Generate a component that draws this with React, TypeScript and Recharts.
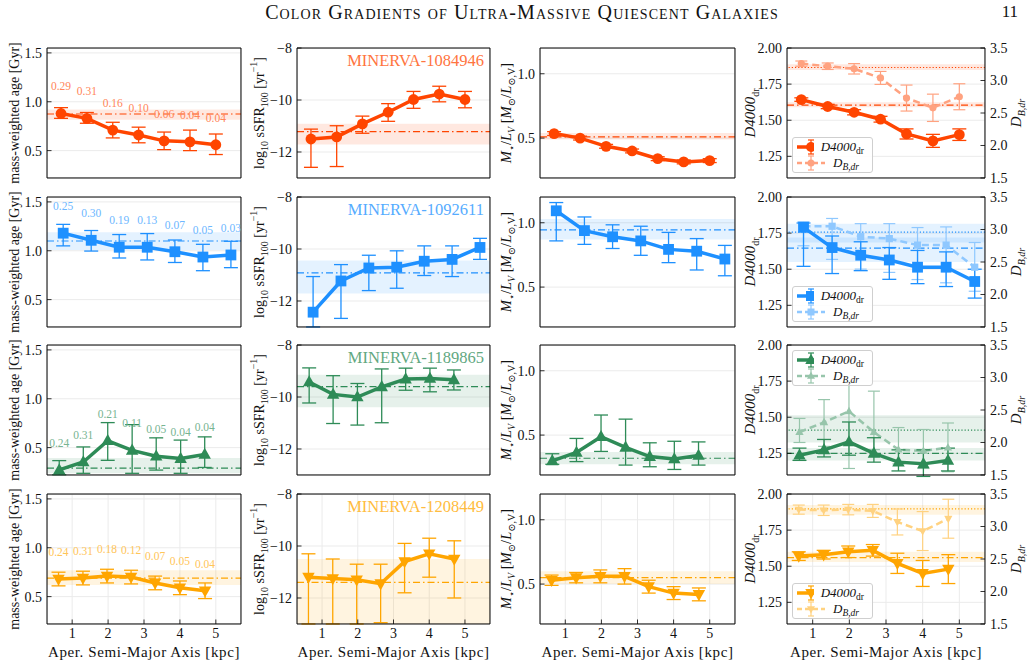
import React from "react";
import {
  ComposedChart,
  Line,
  XAxis,
  YAxis,
  CartesianGrid,
  ErrorBar,
  ReferenceArea,
  ReferenceLine,
  LabelList,
  Label,
  Legend,
} from "recharts";

const FONT = "'Liberation Serif', 'DejaVu Serif', serif";

// ---------- data ----------
// MINERVA-1084946
const radius1084946 = [0.69, 1.41, 2.13, 2.85, 3.56, 4.28, 5.0];
const age1084946 = [0.88, 0.83, 0.71, 0.66, 0.6, 0.59, 0.56];
const ageErr1084946 = [[0.05, 0.06], [0.05, 0.06], [0.08, 0.08], [0.08, 0.08], [0.09, 0.09], [0.09, 0.12], [0.1, 0.11]];
const ageRef1084946 = [0.875, 0.815, 0.92];
const ageNote1084946 = ["0.29", "0.31", "0.16", "0.10", "0.06", "0.04", "0.04"];
const ssfr1084946 = [-11.5, -11.42, -10.92, -10.47, -9.98, -9.77, -9.98];
const ssfrErr1084946 = [[1.09, 0.38], [1.14, 0.43], [0.36, 0.3], [0.35, 0.33], [0.34, 0.31], [0.3, 0.3], [0.32, 0.31]];
const ssfrRef1084946 = [-11.22, -11.71, -10.91];
const ml1084946 = [0.535, 0.5, 0.436, 0.4, 0.34, 0.315, 0.325];
const mlErr1084946 = [[0.015, 0.015], [0.015, 0.015], [0.015, 0.015], [0.015, 0.015], [0.015, 0.015], [0.015, 0.015], [0.015, 0.015]];
const mlRef1084946 = [0.51, 0.49, 0.54];
const d4000_1084946 = [1.643, 1.595, 1.555, 1.507, 1.405, 1.357, 1.4];
const d4000Err1084946 = [[0.012, 0.012], [0.015, 0.015], [0.018, 0.018], [0.02, 0.02], [0.035, 0.035], [0.045, 0.045], [0.04, 0.04]];
const d4000Ref1084946 = [1.605, 1.59, 1.625];
const db1084946 = [3.26, 3.22, 3.18, 3.04, 2.73, 2.58, 2.75];
const dbErr1084946 = [[0.04, 0.04], [0.05, 0.05], [0.08, 0.08], [0.1, 0.1], [0.2, 0.2], [0.21, 0.21], [0.2, 0.2]];
const dbRef1084946 = [3.2, 3.16, 3.25];

// MINERVA-1092611
const radius1092611 = [0.75, 1.53, 2.31, 3.09, 3.86, 4.64, 5.42];
const age1092611 = [1.18, 1.107, 1.036, 1.036, 0.99, 0.936, 0.957];
const ageErr1092611 = [[0.13, 0.09], [0.11, 0.1], [0.11, 0.13], [0.13, 0.14], [0.11, 0.12], [0.14, 0.13], [0.13, 0.14]];
const ageRef1092611 = [1.1, 1.007, 1.19];
const ageNote1092611 = ["0.25", "0.30", "0.19", "0.13", "0.07", "0.05", "0.03"];
const ssfr1092611 = [-12.43, -11.23, -10.73, -10.7, -10.47, -10.4, -9.94];
const ssfrErr1092611 = [[0.57, 1.37], [1.44, 0.63], [0.87, 0.49], [0.81, 0.63], [0.55, 0.59], [0.66, 0.52], [0.46, 0.35]];
const ssfrRef1092611 = [-10.92, -11.71, -10.44];
const ml1092611 = [1.093, 0.939, 0.891, 0.859, 0.793, 0.779, 0.718];
const mlErr1092611 = [[0.234, 0.064], [0.107, 0.106], [0.091, 0.093], [0.112, 0.114], [0.103, 0.132], [0.146, 0.098], [0.13, 0.106]];
const mlRef1092611 = [0.944, 0.87, 1.03];
const d4000_1092611 = [1.79, 1.65, 1.597, 1.564, 1.514, 1.514, 1.415];
const d4000Err1092611 = [[0.27, 0.03], [0.18, 0.08], [0.107, 0.093], [0.134, 0.086], [0.114, 0.116], [0.134, 0.106], [0.115, 0.085]];
const d4000Ref1092611 = [1.646, 1.55, 1.72];
const db1092611 = [3.05, 3.05, 2.89, 2.86, 2.76, 2.76, 2.42];
const dbErr1092611 = [[0.3, 0.07], [0.51, 0.12], [0.5, 0.2], [0.52, 0.23], [0.53, 0.27], [0.58, 0.28], [0.37, 0.38]];
const dbRef1092611 = [2.96, 2.8, 3.09];

// MINERVA-1189865
const radius1189865 = [0.64, 1.31, 1.99, 2.67, 3.34, 4.02, 4.69];
const age1189865 = [0.272, 0.353, 0.57, 0.472, 0.412, 0.388, 0.43];
const ageErr1189865 = [[0.05, 0.095], [0.116, 0.154], [0.2, 0.186], [0.235, 0.263], [0.142, 0.188], [0.151, 0.189], [0.133, 0.18]];
const ageRef1189865 = [0.29, 0.237, 0.395];
const ageNote1189865 = ["0.24", "0.31", "0.21", "0.11", "0.05", "0.04", "0.04"];
const ssfr1189865 = [-9.42, -9.9, -10.0, -9.61, -9.31, -9.29, -9.34];
const ssfrErr1189865 = [[0.81, 0.54], [1.12, 0.72], [1.08, 0.52], [1.38, 0.69], [0.43, 0.42], [0.51, 0.4], [0.39, 0.38]];
const ssfrRef1189865 = [-9.6, -10.39, -9.14];
const ml1189865 = [0.3, 0.365, 0.487, 0.405, 0.333, 0.315, 0.341];
const mlErr1189865 = [[0.027, 0.055], [0.071, 0.109], [0.114, 0.169], [0.138, 0.219], [0.079, 0.107], [0.082, 0.137], [0.074, 0.106]];
const mlRef1189865 = [0.32, 0.273, 0.368];
const d4000_1189865 = [1.237, 1.274, 1.329, 1.25, 1.189, 1.177, 1.201];
const d4000Err1189865 = [[0.036, 0.049], [0.049, 0.072], [0.092, 0.138], [0.061, 0.108], [0.061, 0.085], [0.087, 0.097], [0.073, 0.085]];
const d4000Ref1189865 = [1.25, 1.2, 1.286];
const db1189865 = [2.16, 2.31, 2.48, 2.16, 1.89, 1.87, 1.92];
const dbErr1189865 = [[0.16, 0.21], [0.37, 0.35], [0.88, 0.46], [0.27, 0.63], [0.22, 0.34], [0.27, 0.33], [0.37, 0.38]];
const dbRef1189865 = [2.19, 2.0, 2.42];

// MINERVA-1208449
const radius1208449 = [0.62, 1.3, 1.97, 2.64, 3.31, 4.0, 4.7];
const age1208449 = [0.68, 0.69, 0.71, 0.7, 0.64, 0.59, 0.56];
const ageErr1208449 = [[0.07, 0.07], [0.07, 0.07], [0.07, 0.07], [0.07, 0.07], [0.07, 0.07], [0.07, 0.07], [0.08, 0.08]];
const ageRef1208449 = [0.69, 0.62, 0.77];
const ageNote1208449 = ["0.24", "0.31", "0.18", "0.12", "0.07", "0.05", "0.04"];
const ssfr1208449 = [-11.2, -11.25, -11.3, -11.45, -10.6, -10.3, -10.5];
const ssfrErr1208449 = [[1.8, 0.9], [1.75, 0.75], [1.7, 0.6], [1.5, 0.75], [1.2, 0.7], [0.9, 0.6], [1.5, 0.7]];
const ssfrRef1208449 = [-11.4, -13.3, -10.5];
const ml1208449 = [0.53, 0.55, 0.56, 0.56, 0.48, 0.43, 0.42];
const mlErr1208449 = [[0.04, 0.04], [0.04, 0.04], [0.05, 0.05], [0.06, 0.06], [0.05, 0.05], [0.05, 0.05], [0.05, 0.05]];
const mlRef1208449 = [0.55, 0.5, 0.6];
const d4000_1208449 = [1.57, 1.58, 1.6, 1.61, 1.52, 1.45, 1.48];
const d4000Err1208449 = [[0.03, 0.03], [0.03, 0.03], [0.04, 0.04], [0.04, 0.04], [0.07, 0.07], [0.09, 0.09], [0.1, 0.1]];
const d4000Ref1208449 = [1.56, 1.53, 1.6];
const db1208449 = [3.26, 3.25, 3.26, 3.24, 3.07, 2.93, 3.12];
const dbErr1208449 = [[0.07, 0.07], [0.08, 0.08], [0.08, 0.08], [0.1, 0.1], [0.2, 0.2], [0.3, 0.3], [0.3, 0.3]];
const dbRef1208449 = [3.27, 3.18, 3.33];

const galaxyNames = ["MINERVA-1084946", "MINERVA-1092611", "MINERVA-1189865", "MINERVA-1208449"];
const galaxyColors = ["#ff4500", "#1e90ff", "#2e8b57", "#ffa500"];
const galaxyMarkers = ["circle", "square", "triangle", "triangleDown"];
const legendCorner = ["bottom", "bottom", "top", "bottom"];

// ---------- axes ----------
const X_DOMAIN: [number, number] = [0.3, 5.7];
const xMajor = [1, 2, 3, 4, 5];
const AGE_DOMAIN: [number, number] = [0.22, 1.55];
const ageMajor = [0.5, 1.0, 1.5];
const SSFR_DOMAIN: [number, number] = [-13, -8];
const ssfrMajor = [-12, -10, -8];
const ML_DOMAIN: [number, number] = [0.19, 1.2];
const mlMajor = [0.5, 1.0];
const D4000_DOMAIN: [number, number] = [1.1, 2.0];
const d4000Major = [1.25, 1.5, 1.75, 2.0];
const DB_DOMAIN: [number, number] = [1.5, 3.5];
const dbMajor = [1.5, 2.0, 2.5, 3.0, 3.5];

const steps = (a: number, b: number, s: number) => {
  const out: number[] = [];
  for (let v = a; v <= b + 1e-9; v += s) out.push(Math.round(v * 1000) / 1000);
  return out;
};
const xMinor = steps(0.4, 5.6, 0.2);
const ageMinor = steps(0.3, 1.5, 0.1);
const ssfrMinor = steps(-13, -8, 0.5);
const mlMinor = steps(0.2, 1.2, 0.1);
const d4000Minor = steps(1.1, 2.0, 0.05);
const dbMinor = steps(1.5, 3.5, 0.1);

// ---------- layout ----------
const colLeft = [47, 297, 540, 787];
const colWidth = [194, 193, 195, 198];
const rowTop = [48, 197, 345, 494];
const PH = 130;
const ML = 50;
const MT = 16;
const THIN = 0.01; // axes reserve (almost) no room, margins place the frame

const tint = (hex: string, a: number) => {
  const n = parseInt(hex.slice(1), 16);
  const f = (c: number) => Math.round(255 - (255 - c) * a);
  return `rgb(${f((n >> 16) & 255)},${f((n >> 8) & 255)},${f(n & 255)})`;
};

const axisLine = { stroke: "#000", strokeWidth: 1 };
const tickLine = { stroke: "#000", strokeWidth: 0.8 };
const tickFont = { fontSize: 14, fontFamily: FONT, fill: "#111" };
const minus = (v: number) => (v < 0 ? "\u2212" + Math.abs(v) : String(v));

function Marker({ shape, cx, cy, r, fill }: any) {
  if (shape === "square") return <rect x={cx - r} y={cy - r} width={2 * r} height={2 * r} fill={fill} />;
  if (shape === "triangle")
    return <polygon points={`${cx},${cy - r * 1.25} ${cx + r * 1.15},${cy + r * 0.8} ${cx - r * 1.15},${cy + r * 0.8}`} fill={fill} />;
  if (shape === "triangleDown")
    return <polygon points={`${cx},${cy + r * 1.25} ${cx + r * 1.15},${cy - r * 0.8} ${cx - r * 1.15},${cy - r * 0.8}`} fill={fill} />;
  return <circle cx={cx} cy={cy} r={r} fill={fill} />;
}

const dotFn = (shape: string, r: number, fill: string) => (p: any) =>
  p.cx == null ? <g key={`e${p.index}`} /> : <Marker key={`m${p.index}`} shape={shape} cx={p.cx} cy={p.cy} r={r} fill={fill} />;

const sub = (t: React.ReactNode, italic = false) => (
  <tspan baselineShift="sub" fontSize={10} fontStyle={italic ? "italic" : "normal"}>
    {t}
  </tspan>
);

const ageTitle = <tspan>mass-weighted age [Gyr]</tspan>;
const ssfrTitle = (
  <>
    <tspan>log</tspan>
    {sub("10")}
    <tspan> sSFR</tspan>
    {sub("100")}
    <tspan> [yr</tspan>
    <tspan baselineShift="super" fontSize={10}>{"\u22121"}</tspan>
    <tspan>]</tspan>
  </>
);
const mlTitle = (
  <>
    <tspan fontStyle="italic">M</tspan>
    {sub("\u22c6")}
    <tspan>/</tspan>
    <tspan fontStyle="italic">L</tspan>
    {sub("V", true)}
    <tspan> [</tspan>
    <tspan fontStyle="italic">M</tspan>
    {sub("\u2299")}
    <tspan>/</tspan>
    <tspan fontStyle="italic">L</tspan>
    {sub("\u2299,V")}
    <tspan>]</tspan>
  </>
);
const d4000Title = (
  <>
    <tspan fontStyle="italic">D4000</tspan>
    {sub("dr")}
  </>
);
const dbTitle = (
  <>
    <tspan fontStyle="italic">D</tspan>
    {sub("B,dr", true)}
  </>
);

const yTitle = (node: React.ReactNode, dx: number, size: number) => (props: any) => {
  const vb = props.viewBox || {};
  const x = (vb.x ?? 0) + dx;
  const y = (vb.y ?? 0) + (vb.height ?? 0) / 2;
  return (
    <text x={x} y={y} transform={`rotate(-90, ${x}, ${y})`} textAnchor="middle" dominantBaseline="central"
      fontFamily={FONT} fontSize={size} fill="#111">
      {node}
    </text>
  );
};

const xTitle = (props: any) => {
  const vb = props.viewBox || {};
  return (
    <text x={(vb.x ?? 0) + (vb.width ?? 0) / 2} y={(vb.y ?? 0) + 28} textAnchor="middle" dominantBaseline="central"
      fontFamily={FONT} fontSize={15} letterSpacing={0.6} fill="#111">
      Aper. Semi-Major Axis [kpc]
    </text>
  );
};

function xAxes(showLabels: boolean) {
  return [
    <XAxis key="xm" xAxisId="xm" type="number" domain={X_DOMAIN} ticks={xMinor} interval={0} height={THIN}
      axisLine={false} tick={false} tickLine={tickLine} tickSize={-2.5} allowDataOverflow />,
    <XAxis key="xtm" xAxisId="xtm" orientation="top" type="number" domain={X_DOMAIN} ticks={xMinor} interval={0}
      height={THIN} axisLine={false} tick={false} tickLine={tickLine} tickSize={-2.5} allowDataOverflow />,
    <XAxis key="xt" xAxisId="xt" orientation="top" type="number" domain={X_DOMAIN} ticks={xMajor} interval={0}
      height={THIN} axisLine={axisLine} tick={false} tickLine={tickLine} tickSize={-4.5} allowDataOverflow />,
    <XAxis key="x" xAxisId={0} type="number" dataKey="x" domain={X_DOMAIN} ticks={xMajor} interval={0} height={THIN}
      axisLine={axisLine} tickLine={tickLine} tickSize={-4.5} tickMargin={9} tick={showLabels ? tickFont : false}
      allowDataOverflow>
      {showLabels && <Label content={xTitle} />}
    </XAxis>,
  ];
}

function leftAxes(domain: [number, number], major: number[], minor: number[], fmt: (v: number) => string,
  title: React.ReactNode, dx: number, size: number) {
  return [
    <YAxis key="ym" yAxisId="ym" type="number" domain={domain} ticks={minor} interval={0} width={THIN}
      axisLine={false} tick={false} tickLine={tickLine} tickSize={-2.5} allowDataOverflow />,
    <YAxis key="y" yAxisId={0} type="number" domain={domain} ticks={major} interval={0} width={THIN}
      axisLine={axisLine} tickLine={tickLine} tickSize={-4.5} tickMargin={9.5} tick={tickFont} tickFormatter={fmt}
      allowDataOverflow>
      <Label content={yTitle(title, dx, size)} />
    </YAxis>,
  ];
}

function rightAxes(domain: [number, number], major: number[], minor: number[], labelled: boolean,
  title?: React.ReactNode) {
  return [
    <YAxis key="yrm" yAxisId="yrm" orientation="right" type="number" domain={domain} ticks={minor} interval={0}
      width={THIN} axisLine={false} tick={false} tickLine={tickLine} tickSize={-2.5} allowDataOverflow />,
    <YAxis key="yr" yAxisId="yr" orientation="right" type="number" domain={domain} ticks={major} interval={0}
      width={THIN} axisLine={axisLine} tickLine={tickLine} tickSize={-4.5} tickMargin={9.5}
      tick={labelled ? tickFont : false} tickFormatter={(v: number) => v.toFixed(1)} allowDataOverflow>
      {title && <Label content={yTitle(title, 31, 15)} />}
    </YAxis>,
  ];
}

const noteLabel = (fill: string) => (p: any) => {
  const x = p.x ?? p.viewBox?.x;
  const y = p.y ?? p.viewBox?.y;
  if (x == null || y == null) return null;
  return (
    <text key={`n${p.index}`} x={x} y={y - 27} textAnchor="middle" dominantBaseline="central" fontFamily={FONT}
      fontSize={11.5} fill={fill}>
      {p.value}
    </text>
  );
};

type Row = { x: number; v: number; e: number[]; note?: string };

type PanelProps = {
  col: number;
  row: number;
  data: Row[];
  domain: [number, number];
  major: number[];
  minor: number[];
  fmt: (v: number) => string;
  title: React.ReactNode;
  dx: number;
  size: number;
  refs: number[];
  withNotes?: boolean;
  name?: string;
};

function Panel(p: PanelProps) {
  const color = galaxyColors[p.row];
  const shape = galaxyMarkers[p.row];
  const bottom = p.row === 3;
  const mb = bottom ? 40 : 12;
  const mr = 8;
  const w = colWidth[p.col];
  return (
    <div style={{ position: "absolute", left: colLeft[p.col] - ML, top: rowTop[p.row] - MT }}>
      <ComposedChart width={w + ML + mr} height={PH + MT + mb} data={p.data}
        margin={{ top: MT, right: mr, bottom: mb, left: ML }}>
        <CartesianGrid stroke="#ebebeb" strokeWidth={1} />
        {xAxes(bottom)}
        {leftAxes(p.domain, p.major, p.minor, p.fmt, p.title, p.dx, p.size)}
        {rightAxes(p.domain, p.major, p.minor, false)}
        <ReferenceArea y1={p.refs[1]} y2={p.refs[2]} fill={color} fillOpacity={0.12} stroke="none" ifOverflow="hidden" />
        <ReferenceLine y={p.refs[0]} stroke={color} strokeWidth={1.2} strokeDasharray="7 3 1.5 3" ifOverflow="hidden" />
        <Line type="linear" dataKey="v" stroke={color} strokeWidth={3.5} isAnimationActive={false} activeDot={false}
          dot={dotFn(shape, 5.4, color)}>
          <ErrorBar dataKey="e" direction="y" width={7} stroke={color} strokeWidth={1.3} isAnimationActive={false} />
          {p.withNotes && <LabelList dataKey="note" content={noteLabel(tint(color, 0.65))} />}
        </Line>
      </ComposedChart>
      {p.name && (
        <div style={{ position: "absolute", right: mr + 6, top: MT + 3, fontFamily: FONT, fontSize: 16.5,
          color: tint(color, 0.75), whiteSpace: "nowrap" }}>
          {p.name}
        </div>
      )}
    </div>
  );
}

type IndexRow = { x: number; d: number; de: number[]; b: number; be: number[] };

function LegendBox({ color, shape }: { color: string; shape: string }) {
  const light = tint(color, 0.5);
  const entry = (main: boolean) => {
    const c = main ? color : light;
    return (
      <div style={{ display: "flex", alignItems: "center", height: 16 }}>
        <svg width={30} height={16}>
          <line x1={1} x2={29} y1={8} y2={8} stroke={c} strokeWidth={main ? 3.5 : 2.5}
            strokeDasharray={main ? undefined : "5 3"} />
          <line x1={15} x2={15} y1={1} y2={15} stroke={c} strokeWidth={1.2} />
          <line x1={12} x2={18} y1={1} y2={1} stroke={c} strokeWidth={1.2} />
          <line x1={12} x2={18} y1={15} y2={15} stroke={c} strokeWidth={1.2} />
          <Marker shape={shape} cx={15} cy={8} r={main ? 5 : 3.5} fill={c} />
        </svg>
        <span style={{ fontStyle: "italic", fontSize: 13, marginLeft: 7, fontFamily: FONT, color: "#111" }}>
          {main ? "D4000" : "D"}
          <span style={{ fontSize: 9.5, position: "relative", top: 3, fontStyle: main ? "normal" : "italic" }}>
            {main ? "dr" : "B,dr"}
          </span>
        </span>
      </div>
    );
  };
  return (
    <div style={{ border: "1px solid #cfcfcf", borderRadius: 3, background: "rgba(255,255,255,0.85)",
      padding: "1px 8px 1px 3px", width: 68 }}>
      {entry(true)}
      {entry(false)}
    </div>
  );
}

function IndexPanel({ row, data, dRef, bRef }: { row: number; data: IndexRow[]; dRef: number[]; bRef: number[] }) {
  const color = galaxyColors[row];
  const light = tint(color, 0.5);
  const shape = galaxyMarkers[row];
  const bottom = row === 3;
  const mb = bottom ? 40 : 12;
  const mr = 45;
  const w = colWidth[3];
  const legendTop = legendCorner[row] === "top" ? MT + 5 : MT + PH - 41;
  return (
    <div style={{ position: "absolute", left: colLeft[3] - ML, top: rowTop[row] - MT }}>
      <ComposedChart width={w + ML + mr} height={PH + MT + mb} data={data}
        margin={{ top: MT, right: mr, bottom: mb, left: ML }}>
        <CartesianGrid stroke="#ebebeb" strokeWidth={1} />
        {xAxes(bottom)}
        {leftAxes(D4000_DOMAIN, d4000Major, d4000Minor, (v: number) => v.toFixed(2), d4000Title, -37, 15)}
        {rightAxes(DB_DOMAIN, dbMajor, dbMinor, true, dbTitle)}
        <ReferenceArea y1={dRef[1]} y2={dRef[2]} fill={color} fillOpacity={0.12} stroke="none" ifOverflow="hidden" />
        <ReferenceArea yAxisId="yr" y1={bRef[1]} y2={bRef[2]} fill={color} fillOpacity={0.12} stroke="none"
          ifOverflow="hidden" />
        <ReferenceLine y={dRef[0]} stroke={color} strokeWidth={1.2} strokeDasharray="7 3 1.5 3" ifOverflow="hidden" />
        <ReferenceLine yAxisId="yr" y={bRef[0]} stroke={color} strokeWidth={1.2} strokeDasharray="1.2 2"
          ifOverflow="hidden" />
        <Line yAxisId="yr" type="linear" dataKey="b" stroke={light} strokeWidth={2.5} strokeDasharray="7 4"
          isAnimationActive={false} activeDot={false} dot={dotFn(shape, 3.6, light)}>
          <ErrorBar dataKey="be" direction="y" width={6} stroke={light} strokeWidth={1.2} isAnimationActive={false} />
        </Line>
        <Line type="linear" dataKey="d" stroke={color} strokeWidth={3.5} isAnimationActive={false} activeDot={false}
          dot={dotFn(shape, 5.4, color)}>
          <ErrorBar dataKey="de" direction="y" width={7} stroke={color} strokeWidth={1.3} isAnimationActive={false} />
        </Line>
        <Legend layout="horizontal" verticalAlign="middle" align="center"
          wrapperStyle={{ left: ML + 5, top: legendTop, width: "auto", height: "auto" }}
          content={() => <LegendBox color={color} shape={shape} />} />
      </ComposedChart>
    </div>
  );
}

const mk = (xs: number[], vs: number[], es: number[][], notes?: string[]): Row[] =>
  xs.map((x, i) => ({ x, v: vs[i], e: es[i], note: notes ? notes[i] : undefined }));
const mkIdx = (xs: number[], ds: number[], des: number[][], bs: number[], bes: number[][]): IndexRow[] =>
  xs.map((x, i) => ({ x, d: ds[i], de: des[i], b: bs[i], be: bes[i] }));

const galaxies = [
  {
    age: mk(radius1084946, age1084946, ageErr1084946, ageNote1084946), ageRef: ageRef1084946,
    ssfr: mk(radius1084946, ssfr1084946, ssfrErr1084946), ssfrRef: ssfrRef1084946,
    ml: mk(radius1084946, ml1084946, mlErr1084946), mlRef: mlRef1084946,
    idx: mkIdx(radius1084946, d4000_1084946, d4000Err1084946, db1084946, dbErr1084946),
    dRef: d4000Ref1084946, bRef: dbRef1084946,
  },
  {
    age: mk(radius1092611, age1092611, ageErr1092611, ageNote1092611), ageRef: ageRef1092611,
    ssfr: mk(radius1092611, ssfr1092611, ssfrErr1092611), ssfrRef: ssfrRef1092611,
    ml: mk(radius1092611, ml1092611, mlErr1092611), mlRef: mlRef1092611,
    idx: mkIdx(radius1092611, d4000_1092611, d4000Err1092611, db1092611, dbErr1092611),
    dRef: d4000Ref1092611, bRef: dbRef1092611,
  },
  {
    age: mk(radius1189865, age1189865, ageErr1189865, ageNote1189865), ageRef: ageRef1189865,
    ssfr: mk(radius1189865, ssfr1189865, ssfrErr1189865), ssfrRef: ssfrRef1189865,
    ml: mk(radius1189865, ml1189865, mlErr1189865), mlRef: mlRef1189865,
    idx: mkIdx(radius1189865, d4000_1189865, d4000Err1189865, db1189865, dbErr1189865),
    dRef: d4000Ref1189865, bRef: dbRef1189865,
  },
  {
    age: mk(radius1208449, age1208449, ageErr1208449, ageNote1208449), ageRef: ageRef1208449,
    ssfr: mk(radius1208449, ssfr1208449, ssfrErr1208449), ssfrRef: ssfrRef1208449,
    ml: mk(radius1208449, ml1208449, mlErr1208449), mlRef: mlRef1208449,
    idx: mkIdx(radius1208449, d4000_1208449, d4000Err1208449, db1208449, dbErr1208449),
    dRef: d4000Ref1208449, bRef: dbRef1208449,
  },
];

export default function App() {
  return (
    <div style={{ position: "absolute", left: 0, top: 0, width: 1030, height: 662, background: "#fff",
      fontFamily: FONT, overflow: "hidden" }}>
      <div style={{ position: "absolute", left: 0, width: 1044, top: 1, textAlign: "center", fontSize: 20,
        fontVariant: "small-caps", letterSpacing: 1.1, color: "#111" }}>
        Color Gradients of Ultra-Massive Quiescent Galaxies
      </div>
      <div style={{ position: "absolute", right: 12, top: 2, fontSize: 17, color: "#111" }}>11</div>
      {galaxies.map((g, r) => (
        <React.Fragment key={r}>
          <Panel col={0} row={r} data={g.age} domain={AGE_DOMAIN} major={ageMajor} minor={ageMinor}
            fmt={(v) => v.toFixed(1)} title={ageTitle} dx={-33} size={14} refs={g.ageRef} withNotes />
          <Panel col={1} row={r} data={g.ssfr} domain={SSFR_DOMAIN} major={ssfrMajor} minor={ssfrMinor}
            fmt={minus} title={ssfrTitle} dx={-38} size={14} refs={g.ssfrRef} name={galaxyNames[r]} />
          <Panel col={2} row={r} data={g.ml} domain={ML_DOMAIN} major={mlMajor} minor={mlMinor}
            fmt={(v) => v.toFixed(1)} title={mlTitle} dx={-34} size={14.5} refs={g.mlRef} />
          <IndexPanel row={r} data={g.idx} dRef={g.dRef} bRef={g.bRef} />
        </React.Fragment>
      ))}
    </div>
  );
}
